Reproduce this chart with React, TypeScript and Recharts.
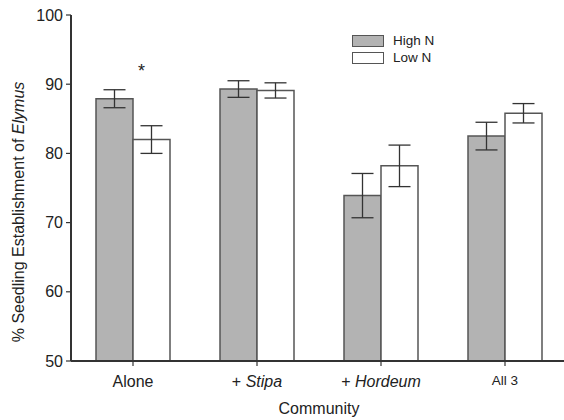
import React from 'react';
import {
  BarChart,
  Bar,
  XAxis,
  YAxis,
  ErrorBar,
  LabelList,
  Legend,
} from 'recharts';

const categories = ['Alone', '+ Stipa', '+ Hordeum', 'All 3'];
const highN = [87.9, 89.3, 73.9, 82.5];
const highNErr = [1.3, 1.2, 3.2, 2.0];
const lowN = [82.0, 89.1, 78.2, 85.8];
const lowNErr = [2.0, 1.1, 3.0, 1.4];
const signif = ['*', '', '', ''];
const yTicks = [50, 60, 70, 80, 90, 100];

const FONT = '"Liberation Sans", Arial, sans-serif';
const INK = '#222';
const EDGE = '#555';
const GREY = '#b3b3b3';

const data = categories.map((name, i) => ({
  name,
  high: highN[i],
  highErr: highNErr[i],
  low: lowN[i],
  lowErr: lowNErr[i],
  mark: signif[i],
}));

// "+ Stipa" -> plain "+ " then italic genus name
function CategoryTick(props: any) {
  const { x, y, payload } = props;
  const label: string = payload.value;
  const small = label === 'All 3';
  const m = label.match(/^(\+ )(.*)$/);
  return (
    <text
      x={x}
      y={y}
      dy={small ? 17 : 19}
      textAnchor="middle"
      fill={INK}
      fontFamily={FONT}
      fontSize={small ? 13.5 : 16}
    >
      {m ? (
        <>
          <tspan>{m[1]}</tspan>
          <tspan fontStyle="italic">{m[2]}</tspan>
        </>
      ) : (
        label
      )}
    </text>
  );
}

function YLabel() {
  return (
    <text
      transform="translate(24, 212) rotate(-90)"
      textAnchor="middle"
      fill={INK}
      fontFamily={FONT}
      fontSize={16}
    >
      <tspan>% Seedling Establishment of </tspan>
      <tspan fontStyle="italic">Elymus</tspan>
    </text>
  );
}

function XLabel(props: any) {
  const vb = props.viewBox || { x: 71, width: 496 };
  return (
    <text
      x={vb.x + vb.width / 2}
      y={414}
      textAnchor="middle"
      fill={INK}
      fontFamily={FONT}
      fontSize={16}
    >
      Community
    </text>
  );
}

function Star(props: any) {
  const { x, y, width, value } = props;
  if (!value) return null;
  return (
    <text
      x={x + width / 2 - 10}
      y={y - 63}
      textAnchor="middle"
      fill={INK}
      fontFamily={FONT}
      fontSize={18}
    >
      {value}
    </text>
  );
}

function LegendBox() {
  const items = [
    { name: 'High N', fill: GREY },
    { name: 'Low N', fill: '#fff' },
  ];
  return (
    <div style={{ fontFamily: FONT, fontSize: 13.5, color: INK }}>
      {items.map((it) => (
        <div key={it.name} style={{ display: 'flex', alignItems: 'center', height: 17 }}>
          <span
            style={{
              display: 'inline-block',
              width: 30,
              height: 10,
              background: it.fill,
              border: `1px solid ${EDGE}`,
              marginRight: 9,
            }}
          />
          {it.name}
        </div>
      ))}
    </div>
  );
}

export default function App() {
  return (
    <div
      style={{
        position: 'absolute',
        left: 0,
        top: 0,
        width: 564,
        height: 420,
        overflow: 'hidden',
        background: '#fff',
      }}
    >
      <BarChart
        width={567}
        height={420}
        data={data}
        margin={{ top: 15, right: 0, left: 0, bottom: 0 }}
        barGap={0}
        barSize={37}
      >
        <XAxis
          dataKey="name"
          height={59}
          tick={<CategoryTick />}
          tickSize={5}
          axisLine={{ stroke: '#333', strokeWidth: 2 }}
          tickLine={{ stroke: '#333', strokeWidth: 1.2 }}
          label={<XLabel />}
        />
        <YAxis
          width={71}
          domain={[50, 100]}
          ticks={yTicks}
          tickSize={5}
          tickMargin={3}
          axisLine={{ stroke: '#333', strokeWidth: 2 }}
          tickLine={{ stroke: '#333', strokeWidth: 1.2 }}
          tick={{ fill: INK, fontFamily: FONT, fontSize: 16 }}
          label={<YLabel />}
        />
        <Legend
          layout="vertical"
          verticalAlign="middle"
          align="center"
          content={<LegendBox />}
          wrapperStyle={{ position: 'absolute', left: 352, top: 32, width: 120 }}
        />
        <Bar dataKey="high" name="High N" fill={GREY} stroke={EDGE} strokeWidth={1.5} isAnimationActive={false}>
          <ErrorBar dataKey="highErr" width={11} stroke="#333" strokeWidth={1.3} />
        </Bar>
        <Bar dataKey="low" name="Low N" fill="#fff" stroke={EDGE} strokeWidth={1.5} isAnimationActive={false}>
          <ErrorBar dataKey="lowErr" width={11} stroke="#333" strokeWidth={1.3} />
          <LabelList dataKey="mark" content={<Star />} />
        </Bar>
      </BarChart>
    </div>
  );
}
